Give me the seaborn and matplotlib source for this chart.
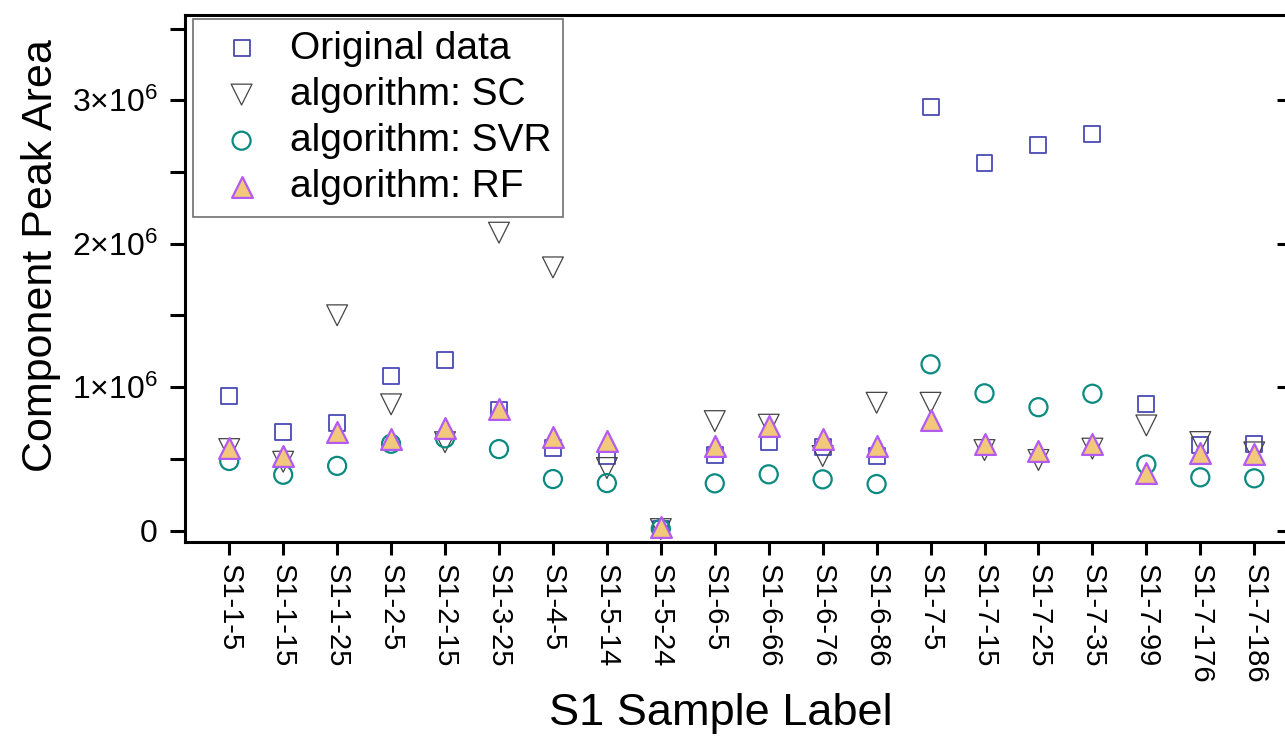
import numpy as np
import pandas as pd
import matplotlib
matplotlib.use("Agg")
import matplotlib.pyplot as plt
import matplotlib.ticker as mticker
import seaborn as sns

categories = ["S1-1-5", "S1-1-15", "S1-1-25", "S1-2-5", "S1-2-15", "S1-3-25", "S1-4-5",
              "S1-5-14", "S1-5-24", "S1-6-5", "S1-6-66", "S1-6-76", "S1-6-86", "S1-7-5",
              "S1-7-15", "S1-7-25", "S1-7-35", "S1-7-99", "S1-7-176", "S1-7-186"]

original = [0.94, 0.685, 0.748, 1.077, 1.189, 0.84, 0.577, 0.521, 0.013, 0.524,
            0.617, 0.582, 0.519, 2.952, 2.565, 2.686, 2.767, 0.884, 0.596, 0.603]
alg_sc = [0.568, 0.48, 1.501, 0.88, 0.616, 2.077, 1.835, 0.436, 0.01, 0.763,
          0.738, 0.52, 0.891, 0.891, 0.561, 0.492, 0.571, 0.733, 0.617, 0.545]
alg_svr = [0.485, 0.389, 0.451, 0.605, 0.643, 0.568, 0.359, 0.331, 0.012, 0.329,
           0.392, 0.357, 0.324, 1.159, 0.957, 0.86, 0.954, 0.461, 0.371, 0.364]
alg_rf = [0.575, 0.519, 0.687, 0.64, 0.717, 0.845, 0.65, 0.624, 0.025, 0.593,
          0.731, 0.636, 0.591, 0.768, 0.605, 0.556, 0.603, 0.403, 0.54, 0.531]

series_names = ["Original data", "algorithm: SC", "algorithm: SVR", "algorithm: RF"]
scale = 1e6

sns.set_style("ticks")
plt.rcParams["font.family"] = ["Liberation Sans", "DejaVu Sans"]
plt.rcParams["mathtext.fontset"] = "custom"
plt.rcParams["mathtext.rm"] = "Liberation Sans"
plt.rcParams["mathtext.it"] = "Liberation Sans:italic"
plt.rcParams["mathtext.bf"] = "Liberation Sans:bold"
for k in ["text.color", "axes.labelcolor", "xtick.color", "ytick.color", "axes.edgecolor"]:
    plt.rcParams[k] = "black"

df = pd.DataFrame({
    "label": categories * 4,
    "value": np.concatenate([original, alg_sc, alg_svr, alg_rf]) * scale,
    "series": np.repeat(series_names, len(categories)),
})

fig = plt.figure(figsize=(12.85, 7.37), dpi=100)
ax = fig.add_axes([185 / 1285, 1 - 542.3 / 737, 1107 / 1285, 527.3 / 737])

styles = {
    "Original data": dict(marker="s", s=11.5 ** 2, facecolor="none", edgecolor="#4a4ab4", linewidth=1.3),
    "algorithm: SC": dict(marker="v", s=15 ** 2, facecolor="none", edgecolor="#444444", linewidth=0.9),
    "algorithm: SVR": dict(marker="o", s=13 ** 2, facecolor="none", edgecolor="#0a8a80", linewidth=1.6),
    "algorithm: RF": dict(marker="^", s=15 ** 2, facecolor="#f2c87a", edgecolor="#b45af2", linewidth=1.6),
}

for name in series_names:
    sub = df[df["series"] == name]
    sns.scatterplot(data=sub, x="label", y="value", ax=ax, label=name, zorder=3, **styles[name])

ax.set_xlim(-0.82, 19.7)
ax.set_ylim(-0.082e6, 3.595e6)

ax.yaxis.set_major_locator(mticker.FixedLocator([0, 1e6, 2e6, 3e6]))
ax.yaxis.set_minor_locator(mticker.FixedLocator([0.5e6, 1.5e6, 2.5e6, 3.5e6]))

def fmt(v, pos):
    if abs(v) < 1:
        return "0"
    return r"$\mathregular{%d{\times}10^{6}}$" % round(v / 1e6)

ax.yaxis.set_major_formatter(mticker.FuncFormatter(fmt))
ax.set_xticks(range(len(categories)))
ax.set_xticklabels(categories, rotation=270, fontsize=21, va="top", ha="center")

for side in ["left", "right", "top", "bottom"]:
    ax.spines[side].set_visible(True)
    ax.spines[side].set_linewidth(2.2)
    ax.spines[side].set_color("black")

ax.tick_params(axis="y", which="both", direction="out", length=10.8, width=2.2,
               labelsize=23, pad=9, left=True, right=False)
ax.tick_params(axis="x", which="major", direction="out", length=9.5, width=2.2, pad=6,
               top=False, bottom=True)

# right-side inward major ticks
ax_r = ax.secondary_yaxis("right")
ax_r.yaxis.set_major_locator(mticker.FixedLocator([0, 1e6, 2e6, 3e6]))
ax_r.tick_params(axis="y", direction="in", length=10.8, width=2.2, labelright=False)
ax_r.spines["right"].set_linewidth(2.2)

ax.set_xlabel("S1 Sample Label", fontsize=32.5)
ax.set_ylabel("Component Peak Area", fontsize=31)
ax.xaxis.set_label_coords(0.484, -0.285)
ax.yaxis.set_label_coords(-0.112, 0.543)

leg = ax.legend(loc="upper left", bbox_to_anchor=(0.0072, 0.9924), borderaxespad=0,
                fontsize=28, frameon=True, fancybox=False, framealpha=1,
                edgecolor="#707070", borderpad=0.3, handlelength=1.9,
                handletextpad=0.3, labelspacing=0.26)
leg.get_frame().set_linewidth(1.2)

fig.savefig("out.png", dpi=100)
